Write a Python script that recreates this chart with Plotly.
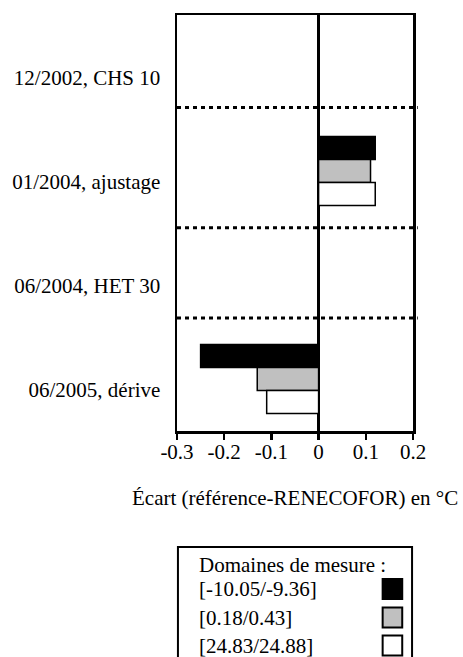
import plotly.graph_objects as go

categories = ["12/2002, CHS 10", "01/2004, ajustage", "06/2004, HET 30", "06/2005, dérive"]
series_names = ["[-10.05/-9.36]", "[0.18/0.43]", "[24.83/24.88]"]
series_values = [
    [None, 0.12, None, -0.25],
    [None, 0.11, None, -0.13],
    [None, 0.12, None, -0.11],
]
series_colors = ["#000000", "#c0c0c0", "#ffffff"]
x_tick_vals = [-0.3, -0.2, -0.1, 0, 0.1, 0.2]
x_tick_text = ["-0.3", "-0.2", "-0.1", "0", "0.1", "0.2"]
legend_title = "Domaines de mesure :"
x_title = "Écart (référence-RENECOFOR) en °C"

FONT = "Liberation Serif"
FS = 21

positions = list(range(len(categories)))
separators = [0.39, 1.546, 2.414]

fig = go.Figure()
for name, vals, col in zip(series_names, series_values, series_colors):
    fig.add_trace(go.Bar(
        y=positions, x=vals, orientation="h", name=name,
        marker=dict(color=col, line=dict(color="black", width=1.5)),
        showlegend=False, hoverinfo="skip",
    ))

shapes = []
for s in separators:
    shapes.append(dict(type="line", xref="paper", yref="y", x0=0, x1=1.02, y0=s, y1=s,
                       line=dict(color="black", width=3, dash="4px,4px")))

# manual legend
plot_h = 416.0
def py(px):
    return (431 - px) / plot_h

shapes.append(dict(type="rect", xref="paper", yref="paper", x0=0.004, x1=0.996,
                   y0=py(547), y1=-0.9, line=dict(color="black", width=2), fillcolor="rgba(0,0,0,0)"))
annotations = [dict(text=legend_title, xref="paper", yref="paper", x=0.083, y=py(565),
                    xanchor="left", yanchor="middle", showarrow=False,
                    font=dict(family=FONT, size=FS, color="black"))]
item_centers = [589, 617.5, 645.5]
for name, col, c in zip(series_names, series_colors, item_centers):
    annotations.append(dict(text=name, xref="paper", yref="paper", x=0.083, y=py(c),
                            xanchor="left", yanchor="middle", showarrow=False,
                            font=dict(family=FONT, size=FS, color="black")))
    shapes.append(dict(type="rect", xref="paper", yref="paper",
                       x0=(382 - 172) / 241, x1=(402 - 172) / 241,
                       y0=py(c + 10), y1=py(c - 10),
                       fillcolor=col, line=dict(color="black", width=2)))

annotations.append(dict(text=x_title, xref="paper", yref="paper", x=0.5, y=py(498),
                        xanchor="center", yanchor="middle", showarrow=False,
                        font=dict(family=FONT, size=FS, color="black")))

fig.update_layout(
    width=463, height=657,
    margin=dict(l=172, r=50, t=15, b=226),
    paper_bgcolor="white", plot_bgcolor="white",
    barmode="group", bargap=0.335, bargroupgap=0,
    font=dict(family=FONT, size=FS, color="black"),
    shapes=shapes, annotations=annotations,
    xaxis=dict(range=[-0.3, 0.2], tickvals=x_tick_vals, ticktext=x_tick_text,
               showgrid=False, zeroline=True, zerolinecolor="black", zerolinewidth=2.5,
               showline=True, linecolor="black", linewidth=2.5, mirror=True,
               ticks="outside", ticklen=6, tickwidth=2.5, tickcolor="black",
               ticklabelstandoff=-6,
               tickfont=dict(family=FONT, size=FS, color="black")),
    yaxis=dict(range=[3.5, -0.5], tickvals=[p + 0.1 for p in positions], ticktext=categories,
               showgrid=False, zeroline=False,
               showline=True, linecolor="black", linewidth=2.5, mirror=True,
               ticks="", ticklabelstandoff=10,
               minor=dict(tickvals=separators, ticks="inside", ticklen=4, tickwidth=2, tickcolor="black"),
               tickfont=dict(family=FONT, size=FS, color="black")),
)

fig.write_html(
    "out.html",
    config={"displayModeBar": False, "staticPlot": True},
    post_script="document.body.style.margin='0';document.body.style.overflow='hidden';",
)
